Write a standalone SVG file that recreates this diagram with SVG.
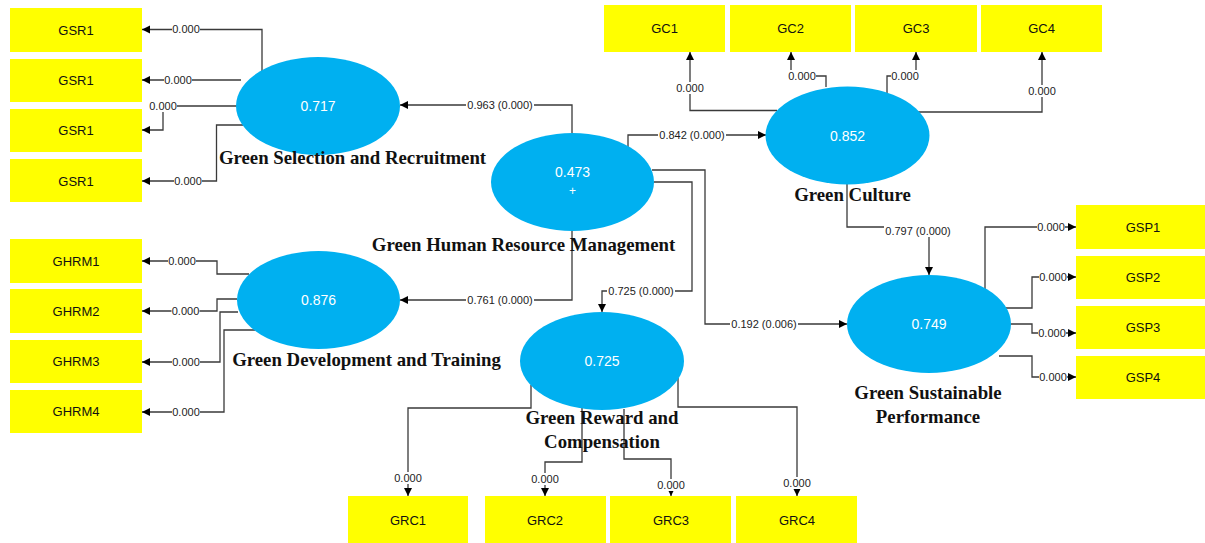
<svg xmlns="http://www.w3.org/2000/svg" width="1205" height="543" viewBox="0 0 1205 543">
<style>
.box{fill:#FFFF00}
.bt{font-family:"Liberation Sans",Arial,sans-serif;font-size:13px;fill:#111;text-anchor:middle;dominant-baseline:central}
.ell{fill:#00B0F0}
.et{font-family:"Liberation Sans",Arial,sans-serif;font-size:14px;fill:#fff;text-anchor:middle;dominant-baseline:central}
.nl{font-family:"Liberation Serif","Times New Roman",serif;font-weight:bold;font-size:18.8px;fill:#111;text-anchor:middle}
.c{fill:none;stroke:#3a3a3a;stroke-width:1.3;marker-end:url(#ah)}
.bg{fill:#fff}
.lb{font-family:"Liberation Sans",Arial,sans-serif;font-size:11px;fill:#222;text-anchor:middle;dominant-baseline:central}
</style>
<defs>
<marker id="ah" markerUnits="userSpaceOnUse" markerWidth="9" markerHeight="9" refX="8" refY="4" orient="auto"><path d="M0,0 L8,4 L0,8 z" fill="#000"/></marker>
</defs>
<rect width="1205" height="543" fill="#fff"/>
<g id="connectors">
<path class="c" d="M262,71 V29.5 H142"/>
<path class="c" d="M241,80 H142"/>
<path class="c" d="M237,106 H163 V130 H142"/>
<path class="c" d="M243,125 H216.5 V181 H142"/>
<path class="c" d="M572,133 V105 H400"/>
<path class="c" d="M572,231 V300 H400"/>
<path class="c" d="M628,147 V135 H766"/>
<path class="c" d="M652,170 H705 V324 H847"/>
<path class="c" d="M654,182 H692 V291 H602 V312"/>
<path class="c" d="M777,110.5 H690 V52"/>
<path class="c" d="M826,87 V76 H791 V52"/>
<path class="c" d="M887,94 V76 H916 V52"/>
<path class="c" d="M918,112 H1042 V52"/>
<path class="c" d="M847,184 V227 H929 V275"/>
<path class="c" d="M985,289 V227 H1076"/>
<path class="c" d="M1005,308 H1032 V277 H1076"/>
<path class="c" d="M1011,324 H1032 V333 H1076"/>
<path class="c" d="M999,356 H1032 V377 H1076"/>
<path class="c" d="M249,274 H217 V261 H142"/>
<path class="c" d="M237,299 H217 V311 H142"/>
<path class="c" d="M238,312 H220 V362 H142"/>
<path class="c" d="M255,330 H224 V412 H142"/>
<path class="c" d="M531,385 V408 H408 V496"/>
<path class="c" d="M582,408 V462 H545 V496"/>
<path class="c" d="M624,409 V459 H671 V496"/>
<path class="c" d="M678,378 V407 H797 V496"/>
<g id="label-bg">
<rect class="bg" x="172" y="23" width="28" height="12"/>
<rect class="bg" x="164" y="74" width="28" height="12"/>
<rect class="bg" x="149" y="100" width="28" height="12"/>
<rect class="bg" x="174" y="175" width="28" height="12"/>
<rect class="bg" x="168" y="255" width="28" height="12"/>
<rect class="bg" x="171.5" y="305" width="28" height="12"/>
<rect class="bg" x="172" y="356" width="28" height="12"/>
<rect class="bg" x="172" y="406" width="28" height="12"/>
<rect class="bg" x="466" y="99" width="68" height="12"/>
<rect class="bg" x="466" y="294" width="68" height="12"/>
<rect class="bg" x="658" y="129" width="68" height="12"/>
<rect class="bg" x="730" y="318" width="68" height="12"/>
<rect class="bg" x="607" y="285" width="68" height="12"/>
<rect class="bg" x="884" y="225" width="68" height="12"/>
<rect class="bg" x="676" y="82" width="28" height="12"/>
<rect class="bg" x="788" y="70" width="28" height="12"/>
<rect class="bg" x="891" y="70" width="28" height="12"/>
<rect class="bg" x="1028" y="85" width="28" height="12"/>
<rect class="bg" x="1037" y="221" width="28" height="12"/>
<rect class="bg" x="1039" y="271" width="28" height="12"/>
<rect class="bg" x="1038" y="327" width="28" height="12"/>
<rect class="bg" x="1039" y="371" width="28" height="12"/>
<rect class="bg" x="394" y="472" width="28" height="12"/>
<rect class="bg" x="531" y="473" width="28" height="12"/>
<rect class="bg" x="657" y="479" width="28" height="12"/>
<rect class="bg" x="783" y="477" width="28" height="12"/>
</g>
<text class="lb" x="186" y="29">0.000</text>
<text class="lb" x="178" y="80">0.000</text>
<text class="lb" x="163" y="106">0.000</text>
<text class="lb" x="188" y="181">0.000</text>
<text class="lb" x="182" y="261">0.000</text>
<text class="lb" x="185.5" y="311">0.000</text>
<text class="lb" x="186" y="362">0.000</text>
<text class="lb" x="186" y="412">0.000</text>
<text class="lb" x="500" y="105">0.963 (0.000)</text>
<text class="lb" x="500" y="300">0.761 (0.000)</text>
<text class="lb" x="692" y="135">0.842 (0.000)</text>
<text class="lb" x="764" y="324">0.192 (0.006)</text>
<text class="lb" x="641" y="291">0.725 (0.000)</text>
<text class="lb" x="918" y="231">0.797 (0.000)</text>
<text class="lb" x="690" y="88">0.000</text>
<text class="lb" x="802" y="76">0.000</text>
<text class="lb" x="905" y="76">0.000</text>
<text class="lb" x="1042" y="91">0.000</text>
<text class="lb" x="1051" y="227">0.000</text>
<text class="lb" x="1053" y="277">0.000</text>
<text class="lb" x="1052" y="333">0.000</text>
<text class="lb" x="1053" y="377">0.000</text>
<text class="lb" x="408" y="478">0.000</text>
<text class="lb" x="545" y="479">0.000</text>
<text class="lb" x="671" y="485">0.000</text>
<text class="lb" x="797" y="483">0.000</text>
</g>
<g id="GSR1a"><rect class="box" x="10" y="8" width="132" height="44"/><text class="bt" x="76" y="30">GSR1</text></g>
<g id="GSR1b"><rect class="box" x="10" y="59" width="132" height="43"/><text class="bt" x="76" y="80.5">GSR1</text></g>
<g id="GSR1c"><rect class="box" x="10" y="109" width="132" height="43"/><text class="bt" x="76" y="130.5">GSR1</text></g>
<g id="GSR1d"><rect class="box" x="10" y="159" width="132" height="43"/><text class="bt" x="76" y="181">GSR1</text></g>
<g id="GHRM1"><rect class="box" x="10" y="239" width="132" height="44"/><text class="bt" x="76" y="261">GHRM1</text></g>
<g id="GHRM2"><rect class="box" x="10" y="289" width="132" height="44"/><text class="bt" x="76" y="311">GHRM2</text></g>
<g id="GHRM3"><rect class="box" x="10" y="340" width="132" height="43"/><text class="bt" x="76" y="361.5">GHRM3</text></g>
<g id="GHRM4"><rect class="box" x="10" y="390" width="132" height="43"/><text class="bt" x="76" y="411.5">GHRM4</text></g>
<g id="GC1"><rect class="box" x="604" y="5" width="121" height="47"/><text class="bt" x="664.5" y="28.5">GC1</text></g>
<g id="GC2"><rect class="box" x="730" y="5" width="121" height="47"/><text class="bt" x="790.5" y="28.5">GC2</text></g>
<g id="GC3"><rect class="box" x="855" y="5" width="122" height="47"/><text class="bt" x="916" y="28.5">GC3</text></g>
<g id="GC4"><rect class="box" x="981" y="5" width="121" height="47"/><text class="bt" x="1041.5" y="28.5">GC4</text></g>
<g id="GSP1"><rect class="box" x="1076" y="205" width="129" height="44"/><text class="bt" x="1143" y="227">GSP1</text></g>
<g id="GSP2"><rect class="box" x="1076" y="256" width="129" height="43"/><text class="bt" x="1143" y="277.5">GSP2</text></g>
<g id="GSP3"><rect class="box" x="1076" y="306" width="129" height="43"/><text class="bt" x="1143" y="327.5">GSP3</text></g>
<g id="GSP4"><rect class="box" x="1076" y="356" width="129" height="43"/><text class="bt" x="1143" y="377.5">GSP4</text></g>
<g id="GRC1"><rect class="box" x="348" y="496" width="120" height="47"/><text class="bt" x="408" y="520">GRC1</text></g>
<g id="GRC2"><rect class="box" x="485" y="496" width="121" height="47"/><text class="bt" x="545" y="520">GRC2</text></g>
<g id="GRC3"><rect class="box" x="610" y="496" width="121" height="47"/><text class="bt" x="671" y="520">GRC3</text></g>
<g id="GRC4"><rect class="box" x="736" y="496" width="121" height="47"/><text class="bt" x="797" y="520">GRC4</text></g>
<g id="GSR"><ellipse class="ell" cx="318" cy="106" rx="82" ry="49"/><text class="et" x="318" y="106">0.717</text><text class="nl" x="352.5" y="164">Green Selection and Recruitment</text></g>
<g id="GHRM"><ellipse class="ell" cx="572.5" cy="182" rx="81.5" ry="49"/><text class="et" x="572.5" y="172">0.473</text><text class="et" x="572.5" y="191" style="font-size:12px">+</text><text class="nl" x="523.5" y="251">Green Human Resource Management</text></g>
<g id="GDT"><ellipse class="ell" cx="318.5" cy="300" rx="81.5" ry="49"/><text class="et" x="318.5" y="300">0.876</text><text class="nl" x="366.5" y="366">Green Development and Training</text></g>
<g id="GRC"><ellipse class="ell" cx="602" cy="361" rx="82" ry="49"/><text class="et" x="602" y="361">0.725</text><text class="nl" x="602" y="424">Green Reward and</text><text class="nl" x="602" y="448">Compensation</text></g>
<g id="GC"><ellipse class="ell" cx="847.5" cy="135.5" rx="82" ry="49"/><text class="et" x="847.5" y="135.5">0.852</text><text class="nl" x="852.5" y="201">Green Culture</text></g>
<g id="GSP"><ellipse class="ell" cx="929" cy="324" rx="82" ry="49"/><text class="et" x="929" y="324">0.749</text><text class="nl" x="928" y="399">Green Sustainable</text><text class="nl" x="928" y="423">Performance</text></g>
</svg>
